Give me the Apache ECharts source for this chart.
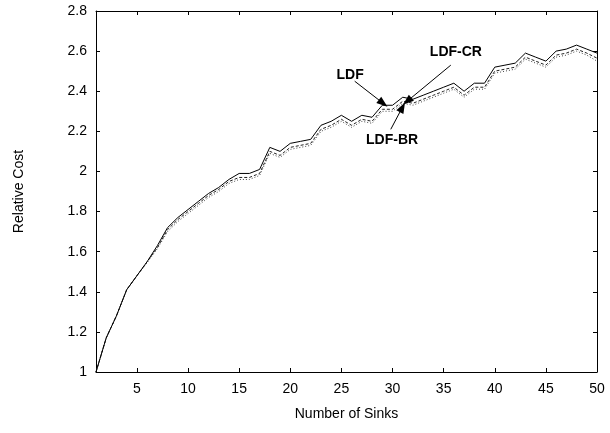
<!DOCTYPE html>
<html>
<head>
<meta charset="utf-8">
<script src="https://cdn.jsdelivr.net/npm/echarts@6/dist/echarts.min.js"></script>
<style>
  html, body { margin: 0; padding: 0; background: #fff; }
  #chart { width: 610px; height: 433px; }
</style>
</head>
<body>
<div id="chart"></div>
<script>
// number of sinks 1..50
const sinks = [1,2,3,4,5,6,7,8,9,10,11,12,13,14,15,16,17,18,19,20,21,22,23,24,25,
  26,27,28,29,30,31,32,33,34,35,36,37,38,39,40,41,42,43,44,45,46,47,48,49,50];

const ldf = [1.00,1.17,1.28,1.41,1.48,1.55,1.63,1.72,1.77,1.81,1.85,1.89,1.92,1.96,1.99,1.99,2.01,2.12,2.10,2.14,
  2.15,2.16,2.23,2.25,2.28,2.25,2.28,2.27,2.33,2.33,2.37,2.36,2.38,2.40,2.42,2.44,2.40,2.44,2.44,2.52,
  2.53,2.54,2.59,2.57,2.55,2.60,2.61,2.63,2.61,2.59];

const ldfCR = [1.00,1.17,1.28,1.41,1.48,1.55,1.62,1.71,1.76,1.80,1.84,1.88,1.91,1.95,1.97,1.97,1.99,2.10,2.08,2.12,
  2.13,2.14,2.21,2.23,2.26,2.23,2.26,2.25,2.31,2.31,2.35,2.34,2.36,2.38,2.40,2.42,2.38,2.42,2.42,2.50,
  2.51,2.52,2.57,2.55,2.53,2.58,2.59,2.61,2.59,2.565];

const ldfBR = [1.00,1.17,1.28,1.41,1.48,1.545,1.615,1.70,1.75,1.79,1.83,1.87,1.90,1.94,1.96,1.96,1.98,2.09,2.07,2.11,
  2.12,2.13,2.20,2.22,2.25,2.22,2.25,2.24,2.30,2.30,2.34,2.33,2.35,2.37,2.39,2.41,2.37,2.41,2.41,2.49,
  2.50,2.51,2.56,2.54,2.52,2.57,2.58,2.60,2.58,2.55];

const xTicks = [5,10,15,20,25,30,35,40,45,50];

// annotation: label position, arrow start and arrow tip (data coords)
const notes = [
  { text: 'LDF',    at: [25.85, 2.48],  from: [26.3, 2.45], to: [29.08, 2.34] },
  { text: 'LDF-CR', at: [36.2, 2.595],  from: [35.7, 2.53], to: [31.43, 2.35] },
  { text: 'LDF-BR', at: [29.96, 2.155], from: [29.83, 2.21], to: [30.97, 2.32] }
];

const font = '"Liberation Sans", Arial, sans-serif';
const pairs = (ys) => sinks.map((x, i) => [x, ys[i]]);

const chart = echarts.init(document.getElementById('chart'));

const axisLine = { show: true, lineStyle: { color: '#000', width: 1 } };

const option = {
  animation: false,
  backgroundColor: '#fff',
  grid: { left: 96, right: 13, top: 11, bottom: 61 },
  xAxis: [
    {
      type: 'value', min: 1, max: 50,
      name: 'Number of Sinks', nameLocation: 'middle', nameGap: 35,
      nameTextStyle: { fontFamily: font, fontSize: 14, color: '#000' },
      axisLine: axisLine,
      axisTick: { show: true, inside: true, length: 4, customValues: xTicks, lineStyle: { color: '#000' } },
      axisLabel: { customValues: xTicks, fontFamily: font, fontSize: 14, color: '#000', margin: 10 },
      splitLine: { show: false }
    },
    {
      type: 'value', min: 1, max: 50, position: 'top',
      axisLine: axisLine,
      axisTick: { show: true, inside: true, length: 4, customValues: xTicks, lineStyle: { color: '#000' } },
      axisLabel: { show: false },
      splitLine: { show: false }
    }
  ],
  yAxis: [
    {
      type: 'value', min: 1, max: 2.8, interval: 0.2,
      name: 'Relative Cost', nameLocation: 'middle', nameGap: 70,
      nameTextStyle: { fontFamily: font, fontSize: 14, color: '#000' },
      axisLine: axisLine,
      axisTick: { show: true, inside: true, length: 4, lineStyle: { color: '#000' } },
      axisLabel: {
        fontFamily: font, fontSize: 14, color: '#000', margin: 9,
        formatter: (v) => String(Math.round(v * 10) / 10)
      },
      splitLine: { show: false }
    },
    {
      type: 'value', min: 1, max: 2.8, interval: 0.2, position: 'right',
      axisLine: axisLine,
      axisTick: { show: true, inside: true, length: 4, lineStyle: { color: '#000' } },
      axisLabel: { show: false },
      splitLine: { show: false }
    }
  ],
  series: [
    {
      name: 'LDF', type: 'line', data: pairs(ldf), symbol: 'none',
      lineStyle: { color: '#000', width: 1 }, z: 5
    },
    {
      name: 'LDF-CR', type: 'line', data: pairs(ldfCR), symbol: 'none',
      lineStyle: { color: '#222', width: 1, type: [3, 2] }, z: 4
    },
    {
      name: 'LDF-BR', type: 'line', data: pairs(ldfBR), symbol: 'none',
      lineStyle: { color: '#444', width: 1, type: [1, 2] }, z: 3,
      markLine: {
        silent: true,
        symbol: ['none', 'triangle'],
        symbolSize: [8, 11],
        itemStyle: { color: '#000' },
        lineStyle: { color: '#000', width: 1, type: 'solid' },
        label: { show: false },
        data: notes.map((n) => [
          { coord: n.from, symbol: 'none' },
          { coord: n.to, symbol: 'triangle', symbolSize: [8, 11], itemStyle: { color: '#000' } }
        ])
      },
      markPoint: {
        silent: true,
        symbol: 'circle', symbolSize: 0,
        label: {
          show: true, position: 'inside', color: '#000',
          fontFamily: font, fontSize: 14, fontWeight: 'bold',
          formatter: (p) => p.name
        },
        data: notes.map((n) => ({ name: n.text, coord: n.at }))
      }
    }
  ]
};

chart.setOption(option);
</script>
</body>
</html>
